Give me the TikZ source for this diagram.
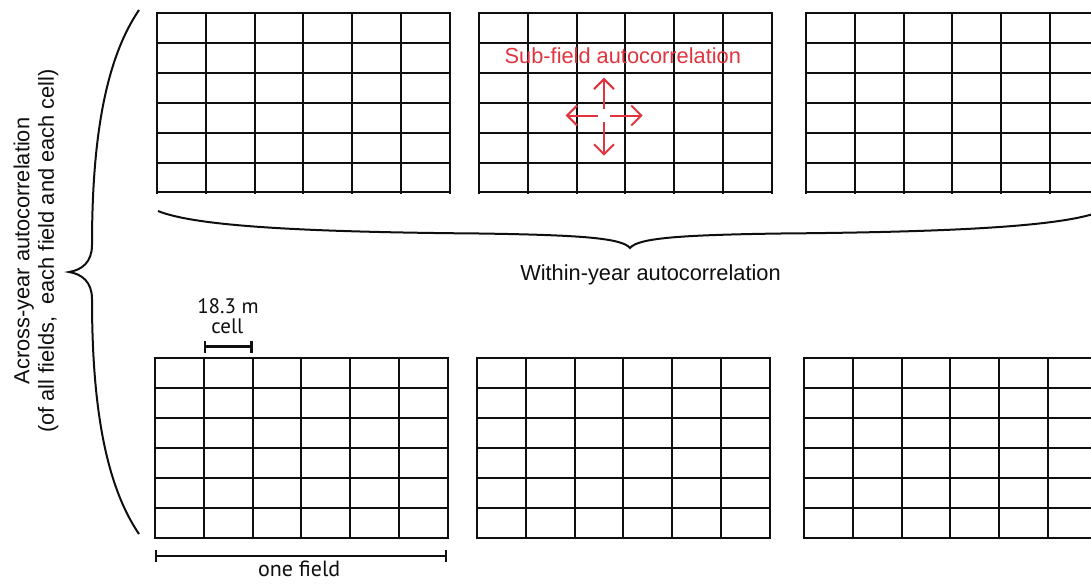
\documentclass[tikz,border=0pt]{standalone}
\usepackage{fontspec}
\setmainfont{Liberation Sans}
\newfontfamily\humfont{PT Sans}
\usetikzlibrary{arrows.meta}
\definecolor{redlab}{RGB}{224,52,62}
\definecolor{ink}{RGB}{15,15,15}
\tikzset{
  gridline/.style={draw=ink, line width=1pt, line cap=rect},
  bracestyle/.style={draw=ink, line width=1pt},
  barstyle/.style={draw=ink, line width=1.2pt, {Bar[width=6pt]}-{Bar[width=6pt]}},
  redarrow/.style={draw=redlab, line width=1pt, -{Straight Barb[length=5pt,width=10pt]}},
  lab/.style={font=\fontsize{10.9}{12.5}\selectfont, text=ink, inner sep=0pt},
  hum/.style={font=\humfont\fontsize{10.5}{12}\selectfont, text=ink, inner sep=0pt},
  fieldgrid/.pic={
    \foreach \i in {0,...,6} \draw[gridline] ({\i*48.8},0) -- ({\i*48.8},179.5);
    \foreach \j in {0,...,6} \draw[gridline] (0,{\j*29.9}) -- (292.8,{\j*29.9});
  },
}
\begin{document}
\begin{tikzpicture}[x=0.5pt,y=-0.5pt]
  \useasboundingbox (0,0) rectangle (1091,585);
  \clip (0,0) rectangle (1091,585);
  \fill[white] (0,0) rectangle (1091,585);

  % fields, top row (one year)
  \pic (gA) at (157,13) {fieldgrid};
  \pic (gB) at (479,13) {fieldgrid};
  \pic (gC) at (806,13) {fieldgrid};
  % fields, bottom row (another year)
  \pic (gD) at (155,358.3) {fieldgrid};
  \pic (gE) at (477,358.3) {fieldgrid};
  \pic (gF) at (804,358.3) {fieldgrid};

  % left brace (across-year)
  \coordinate (lbTop) at (139,10);
  \coordinate (lbTip) at (69,272);
  \coordinate (lbBot) at (139,534);
  \draw[bracestyle] (lbTop) .. controls (105,60) and (92,140) .. (92,245)
        .. controls (92,262) and (82,270) .. (lbTip)
        .. controls (82,274) and (92,282) .. (92,299)
        .. controls (92,404) and (105,484) .. (lbBot);

  % horizontal brace (within-year)
  \coordinate (hbL) at (158,211);
  \coordinate (hbTip) at (630,248);
  \coordinate (hbR) at (1102,211);
  \draw[bracestyle] (hbL) .. controls (195,226) and (300,232) .. (480,233.5)
        .. controls (580,235) and (622,238) .. (hbTip)
        .. controls (638,238) and (680,235) .. (780,233.5)
        .. controls (960,232) and (1065,226) .. (hbR);

  % labels
  \node[lab, rotate=90, anchor=base] (across1) at (29.3,251) {Across-year autocorrelation};
  \node[lab, rotate=90, anchor=base] (across2) at (54,251) {(of all fields,\ \ each field and each cell)};
  \node[lab, anchor=base] (within) at (650.5,280) {Within-year autocorrelation};
  \node[lab, text=redlab, anchor=base] (subfield) at (622.8,63.3) {Sub-field autocorrelation};

  % sub-field arrows
  \coordinate (ac) at (604,115.5);
  \coordinate (aU0) at (604,109);  \coordinate (aU1) at (604,77.7);
  \coordinate (aD0) at (604,122);  \coordinate (aD1) at (604,155.7);
  \coordinate (aL0) at (598,115.5);  \coordinate (aL1) at (565.7,115.5);
  \coordinate (aR0) at (610,115.5);  \coordinate (aR1) at (642.7,115.5);
  \draw[redarrow] (aU0) -- (aU1);
  \draw[redarrow] (aD0) -- (aD1);
  \draw[redarrow] (aL0) -- (aL1);
  \draw[redarrow] (aR0) -- (aR1);

  % cell scale bar
  \node[hum, anchor=base] (cellsize) at (228,313) {18.3 m};
  \node[hum, anchor=base] (celllab) at (227.3,333) {cell};
  \coordinate (cbL) at (204,346.5);
  \coordinate (cbR) at (252.5,346.5);
  \draw[barstyle] (cbL) -- (cbR);

  % field scale bar
  \coordinate (fbL) at (155,556);
  \coordinate (fbR) at (447.3,556);
  \draw[barstyle] (fbL) -- (fbR);
  \node[hum, font=\humfont\fontsize{11}{13}\selectfont, anchor=base] (fieldlab) at (299.2,576) {one field};
\end{tikzpicture}
\end{document}
